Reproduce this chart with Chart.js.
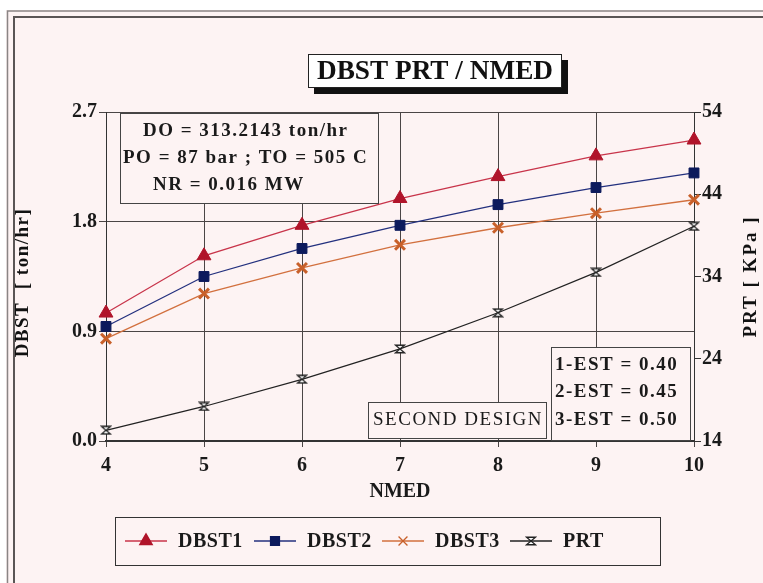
<!DOCTYPE html>
<html>
<head>
<meta charset="utf-8">
<title>DBST PRT / NMED</title>
<script src="https://cdn.jsdelivr.net/npm/chart.js@4.4.1/dist/chart.umd.min.js"></script>
<style>
  html, body { margin: 0; padding: 0; background: #fff; }
  canvas { display: block; }
</style>
</head>
<body>
<canvas id="prtChart" width="763" height="583"></canvas>
<script>
// values
const nmed = [4, 5, 6, 7, 8, 9, 10];
const dbst1 = [1.05, 1.52, 1.77, 1.99, 2.17, 2.34, 2.47];
const dbst2 = [0.94, 1.35, 1.58, 1.77, 1.94, 2.08, 2.20];
const dbst3 = [0.84, 1.21, 1.42, 1.61, 1.75, 1.87, 1.98];
const prt = [15.3, 18.2, 21.5, 25.2, 29.6, 34.5, 40.1];

const infoLines = ['DO = 313.2143 ton/hr', 'PO = 87 bar ; TO = 505 C', 'NR = 0.016 MW'];
const estLines = ['1-EST = 0.40', '2-EST = 0.45', '3-EST = 0.50'];

const serif = '"Liberation Serif", "Times New Roman", serif';

// hourglass marker for PRT (no built in style looks like it)
function hourglass() {
    const c = document.createElement('canvas');
    c.width = 12; c.height = 10;
    const g = c.getContext('2d');
    g.strokeStyle = '#222';
    g.fillStyle = '#fff';
    g.lineWidth = 1.4;
    g.beginPath();
    g.moveTo(1.5, 1.2); g.lineTo(10.5, 1.2); g.lineTo(1.5, 8.8); g.lineTo(10.5, 8.8); g.closePath();
    g.fill(); g.stroke();
    return c;
}
const prtMarker = hourglass();

// background + double frame + title box with shadow + text boxes + legend
const decorPlugin = {
    id: 'decor',
    beforeDraw(chart) {
        const ctx = chart.ctx;
        ctx.save();
        ctx.fillStyle = '#fff';
        ctx.fillRect(0, 0, chart.width, chart.height);
        ctx.fillStyle = '#fdf3f3';
        ctx.fillRect(6, 10, chart.width, chart.height);
        ctx.strokeStyle = '#8a8585';
        ctx.lineWidth = 1.5;
        ctx.strokeRect(7.5, 11, chart.width + 20, chart.height + 20);
        ctx.strokeStyle = '#5a5555';
        ctx.lineWidth = 2;
        ctx.strokeRect(14, 17, chart.width + 20, chart.height + 20);
        ctx.restore();
    },
    afterDraw(chart) {
        const ctx = chart.ctx;
        const area = chart.chartArea;
        const midY = (area.top + area.bottom) / 2;
        ctx.save();

        // title with drop shadow
        ctx.fillStyle = '#111';
        ctx.fillRect(314, 60, 254, 34);
        ctx.fillStyle = '#fff';
        ctx.fillRect(308, 54, 254, 34);
        ctx.strokeStyle = '#222';
        ctx.lineWidth = 1;
        ctx.strokeRect(308.5, 54.5, 253, 33);
        ctx.fillStyle = '#111';
        ctx.font = 'bold 28px ' + serif;
        ctx.textAlign = 'center';
        ctx.textBaseline = 'middle';
        const tw = ctx.measureText('DBST PRT / NMED').width;
        ctx.save();
        ctx.translate(435, 72);
        ctx.scale(Math.min(1, 236 / tw), 1);
        ctx.fillText('DBST PRT / NMED', 0, 0);
        ctx.restore();

        // axis titles
        ctx.font = 'bold 19px ' + serif;
        ctx.save();
        ctx.letterSpacing = '1.5px';
        ctx.translate(23, midY + 6);
        ctx.rotate(-Math.PI / 2);
        ctx.fillText('DBST  [ ton/hr]', 0, 0);
        ctx.restore();
        ctx.save();
        ctx.letterSpacing = '2px';
        ctx.translate(751, midY);
        ctx.rotate(-Math.PI / 2);
        ctx.fillText('PRT [ KPa ]', 0, 0);
        ctx.restore();

        ctx.strokeStyle = '#444';
        ctx.lineWidth = 1;
        ctx.fillStyle = '#1a1a1a';
        ctx.textAlign = 'left';
        ctx.letterSpacing = '1.5px';

        // info box top-left
        let bx = area.left + 14, by = area.top + 1;
        ctx.fillStyle = '#fdf3f3';
        ctx.fillRect(bx, by, 258, 90);
        ctx.strokeRect(bx + 0.5, by + 0.5, 258, 90);
        ctx.fillStyle = '#1a1a1a';
        ctx.font = 'bold 19px ' + serif;
        const infoX = [23, 3, 33];
        infoLines.forEach((t, i) => ctx.fillText(t, bx + infoX[i], by + 18 + i * 27));

        // second design box
        bx = area.left + 262; by = area.bottom - 39;
        ctx.fillStyle = '#fdf3f3';
        ctx.fillRect(bx, by, 178, 36);
        ctx.strokeRect(bx + 0.5, by + 0.5, 178, 36);
        ctx.fillStyle = '#1a1a1a';
        ctx.textAlign = 'center';
        ctx.font = '19px ' + serif;
        ctx.fillText('SECOND DESIGN', bx + 90, by + 18);

        // EST box
        bx = area.left + 445; by = area.bottom - 94;
        ctx.fillStyle = '#fdf3f3';
        ctx.fillRect(bx, by, 139, 93);
        ctx.strokeRect(bx + 0.5, by + 0.5, 139, 93);
        ctx.fillStyle = '#1a1a1a';
        ctx.textAlign = 'left';
        ctx.font = 'bold 19px ' + serif;
        estLines.forEach((t, i) => ctx.fillText(t, bx + 4, by + 18 + i * 27.5));

        // legend box
        const lx = 115, ly = 517, lw = 545, lh = 48;
        ctx.strokeStyle = '#333';
        ctx.strokeRect(lx + 0.5, ly + 0.5, lw, lh);
        ctx.font = 'bold 20px ' + serif;
        ctx.letterSpacing = '0.5px';
        ctx.textBaseline = 'middle';
        const startX = [125, 254, 382, 510];
        chart.data.datasets.forEach((ds, i) => {
            const x0 = startX[i], y0 = ly + 24;
            ctx.strokeStyle = ds.borderColor;
            ctx.lineWidth = 1.3;
            ctx.beginPath();
            ctx.moveTo(x0, y0); ctx.lineTo(x0 + 42, y0);
            ctx.stroke();
            ctx.fillStyle = ds.pointBackgroundColor;
            ctx.strokeStyle = ds.pointBorderColor;
            Chart.helpers.drawPoint(ctx, {
                pointStyle: ds.pointStyle,
                radius: ds.pointRadius * 0.9,
                borderWidth: ds.pointBorderWidth,
                rotation: 0
            }, x0 + 21, y0);
            ctx.fillStyle = '#1a1a1a';
            ctx.fillText(ds.label, x0 + 53, y0 + 1);
        });
        ctx.restore();
    }
};

const tickFont = { family: serif, size: 20, weight: 'bold' };

new Chart(document.getElementById('prtChart').getContext('2d'), {
    type: 'line',
    data: {
        labels: nmed,
        datasets: [
            {
                label: 'DBST1', data: dbst1, yAxisID: 'y',
                borderColor: '#c8344a', borderWidth: 1.3,
                pointStyle: 'triangle', pointRadius: 8, pointBorderWidth: 1,
                pointBackgroundColor: '#b0142a', pointBorderColor: '#b0142a'
            },
            {
                label: 'DBST2', data: dbst2, yAxisID: 'y',
                borderColor: '#23307e', borderWidth: 1.3,
                pointStyle: 'rect', pointRadius: 7, pointBorderWidth: 1,
                pointBackgroundColor: '#0c1a5c', pointBorderColor: '#0c1a5c'
            },
            {
                label: 'DBST3', data: dbst3, yAxisID: 'y',
                borderColor: '#d2703e', borderWidth: 1.3,
                pointStyle: 'crossRot', pointRadius: 7, pointBorderWidth: 3,
                pointBackgroundColor: '#c8602a', pointBorderColor: '#c8602a'
            },
            {
                label: 'PRT', data: prt, yAxisID: 'y1',
                borderColor: '#222', borderWidth: 1.2,
                pointStyle: prtMarker, pointRadius: 6, pointBorderWidth: 1,
                pointBackgroundColor: '#fff', pointBorderColor: '#222'
            }
        ]
    },
    options: {
        responsive: false,
        animation: false,
        devicePixelRatio: 1,
        layout: { padding: { left: 0, right: 0, top: 112, bottom: 78 } },
        plugins: {
            legend: { display: false },
            tooltip: { enabled: false }
        },
        scales: {
            x: {
                offset: false,
                grid: { color: '#4a4545', lineWidth: 1, tickLength: 6 },
                border: { color: '#333', width: 2 },
                ticks: { font: tickFont, color: '#1a1a1a', padding: 7, maxRotation: 0 },
                title: { display: true, text: 'NMED', font: { family: serif, size: 20, weight: 'bold' }, color: '#1a1a1a', padding: { top: 0, bottom: 1 } },
                afterFit(scale) { scale.height = 64; }
            },
            y: {
                position: 'left',
                min: 0, max: 2.7,
                grid: { color: '#4a4545', lineWidth: 1, tickLength: 7 },
                border: { color: '#333', width: 1 },
                ticks: {
                    stepSize: 0.9, font: tickFont, color: '#1a1a1a', padding: 2,
                    callback: v => v.toFixed(1)
                },
                afterFit(scale) { scale.width = 106; }
            },
            y1: {
                position: 'right',
                min: 14, max: 54,
                grid: { drawOnChartArea: false, color: '#333', tickLength: 7 },
                border: { color: '#333', width: 1 },
                ticks: { stepSize: 10, font: tickFont, color: '#1a1a1a', padding: 1 },
                afterFit(scale) { scale.width = 69; }
            }
        }
    },
    plugins: [decorPlugin]
});
</script>
</body>
</html>
